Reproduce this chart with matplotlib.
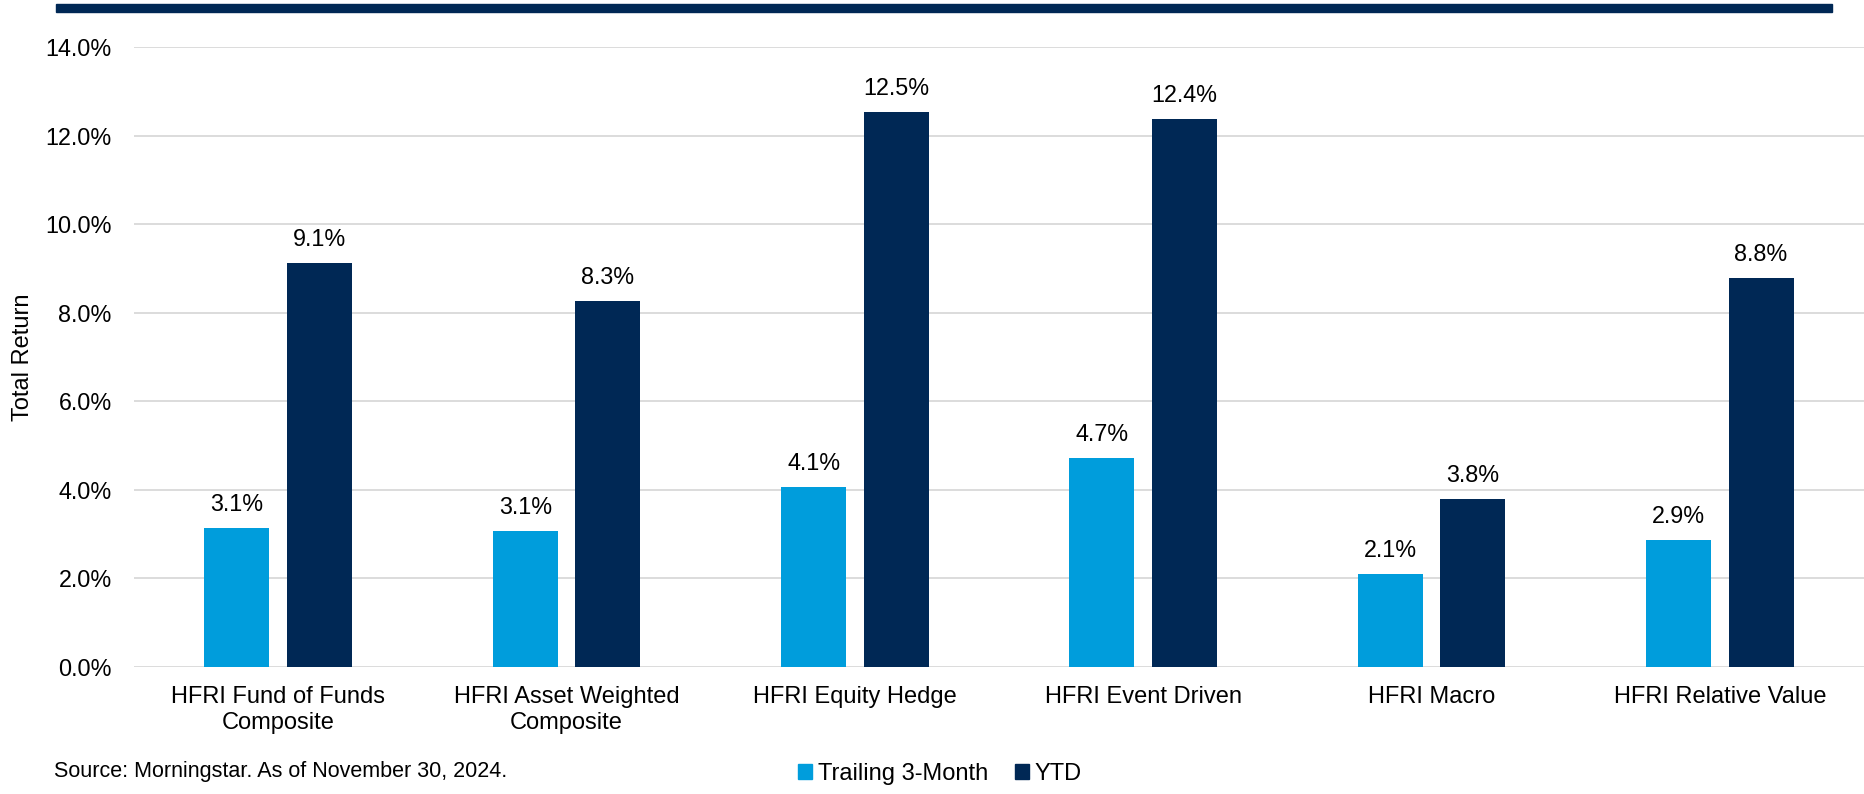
import matplotlib
matplotlib.use("Agg")
import matplotlib.pyplot as plt
from matplotlib.patches import Patch, Rectangle
from matplotlib.ticker import FuncFormatter, MultipleLocator
import numpy as np

plt.rcParams['font.family'] = ['Liberation Sans', 'DejaVu Sans']

categories = ["HFRI Fund of Funds\nComposite", "HFRI Asset Weighted\nComposite",
              "HFRI Equity Hedge", "HFRI Event Driven", "HFRI Macro", "HFRI Relative Value"]
trailing_3m = [3.13, 3.07, 4.06, 4.73, 2.10, 2.86]
ytd = [9.13, 8.27, 12.53, 12.38, 3.80, 8.78]
series_names = ["Trailing 3-Month", "YTD"]
colors = ["#009DDC", "#002855"]
source_text = "Source: Morningstar. As of November 30, 2024."

W, H = 1865, 794
fig = plt.figure(figsize=(W / 100, H / 100), dpi=100)
ax = fig.add_axes([134 / W, 1 - 667 / H, 1730 / W, 620 / H])

x = np.arange(len(categories))
bw = 0.225
off = 0.143
b1 = ax.bar(x - off, trailing_3m, width=bw, color=colors[0], zorder=3)
b2 = ax.bar(x + off, ytd, width=bw, color=colors[1], zorder=3)

for bars, vals in ((b1, trailing_3m), (b2, ytd)):
    for rect, v in zip(bars, vals):
        ax.annotate(f"{v:.1f}%", (rect.get_x() + rect.get_width() / 2, v),
                    xytext=(0, 12.2), textcoords="offset points",
                    ha="center", va="baseline", fontsize=16.8, color="#000000")

ax.set_xlim(-0.5, len(categories) - 0.5)
ax.set_ylim(0, 14)
ax.yaxis.set_major_locator(MultipleLocator(2))
ax.yaxis.set_major_formatter(FuncFormatter(lambda v, p: f"{v:.1f}%"))
ax.set_xticks(x)
ax.set_xticklabels(categories, fontsize=17, linespacing=1.2)
ax.tick_params(axis='x', length=0, pad=14)
ax.tick_params(axis='y', length=0, pad=16, labelsize=16.8)
ax.grid(axis='y', color="#D9D9D9", linewidth=1.3, zorder=0)
for s in ax.spines.values():
    s.set_visible(False)
ax.set_ylabel("Total Return", fontsize=17)
ax.yaxis.set_label_coords(-(134 - 34) / 1730, 0.5)

# top banner bar
fig.patches.append(Rectangle((56 / W, 1 - 12 / H), (1832 - 56) / W, 8 / H,
                             transform=fig.transFigure, color=colors[1], zorder=5))

handles = [Patch(color=c, label=n) for c, n in zip(colors, series_names)]
fig.legend(handles=handles, loc="center", bbox_to_anchor=(940 / W, 1 - 774 / H),
           bbox_transform=fig.transFigure,
           ncol=2, frameon=False, fontsize=17, handlelength=0.6, handleheight=0.6,
           handletextpad=0.25, columnspacing=1.1, borderpad=0, borderaxespad=0)

fig.text(54 / W, 1 - 772 / H, source_text, fontsize=15.5, ha="left", va="center")

fig.savefig("out.png", dpi=100)
